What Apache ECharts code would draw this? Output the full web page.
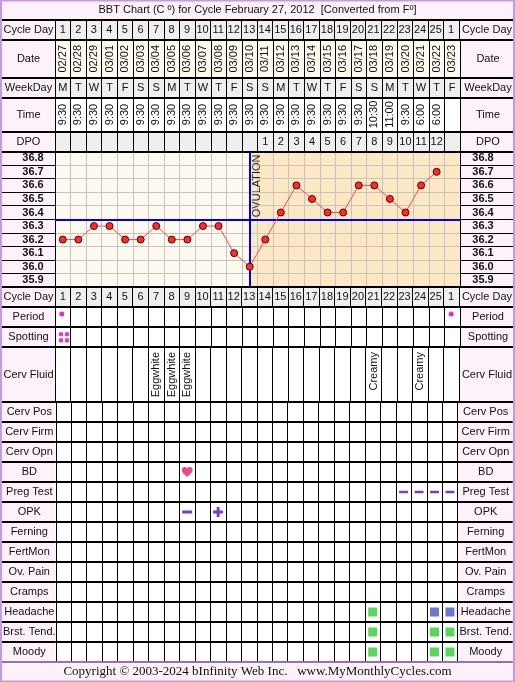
<!DOCTYPE html>
<html><head><meta charset="utf-8">
<script src="https://cdn.jsdelivr.net/npm/echarts@6/dist/echarts.min.js"></script>
<style>html,body{margin:0;padding:0;background:#fdf1fc}#c{width:515px;height:682px}</style>
</head><body><div id="c"></div>
<script>
// ---------------- DATA ----------------
const titleText = 'BBT Chart (C º) for Cycle February 27, 2012  [Converted from Fº]';
const copyrightText = 'Copyright © 2003-2024 bInfinity Web Inc.   www.MyMonthlyCycles.com';
const cycleDays = ['1','2','3','4','5','6','7','8','9','10','11','12','13','14','15','16','17','18','19','20','21','22','23','24','25','1'];
const dates = ['02/27','02/28','02/29','03/01','03/02','03/03','03/04','03/05','03/06','03/07','03/08','03/09','03/10','03/11','03/12','03/13','03/14','03/15','03/16','03/17','03/18','03/19','03/20','03/21','03/22','03/23'];
const weekDays = ['M','T','W','T','F','S','S','M','T','W','T','F','S','S','M','T','W','T','F','S','S','M','T','W','T','F'];
const times = ['9:30','9:30','9:30','9:30','9:30','9:30','9:30','9:30','9:30','9:30','9:30','9:30','9:30','9:30','9:30','9:30','9:30','9:30','9:30','9:30','10:30','11:00','9:30','6:00','6:00',''];
const dpo = ['','','','','','','','','','','','','','1','2','3','4','5','6','7','8','9','10','11','12',''];
const temps = [36.2,36.2,36.3,36.3,36.2,36.2,36.3,36.2,36.2,36.3,36.3,36.1,36.0,36.2,36.4,36.6,36.5,36.4,36.4,36.6,36.6,36.5,36.4,36.6,36.7,null];
const tempLabels = ['35.9','36.0','36.1','36.2','36.3','36.4','36.5','36.6','36.7','36.8'];
const tempMin = 35.85, tempMax = 36.85;
const coverline = 36.35;
const ovulationCol = 13;
const headerRows = ['Cycle Day','Date','WeekDay','Time','DPO'];
const rowsA = ['Period','Spotting'];
const rowsB = ['Cerv Fluid'];
const rowsC = ['Cerv Pos','Cerv Firm','Cerv Opn','BD','Preg Test','OPK','Ferning','FertMon','Ov. Pain','Cramps','Headache','Brst. Tend.','Moody'];
const periodCols = [1, 26];
const spottingCols = [1];
const cervFluidCols = [7, 8, 9, 21, 24];
const cervFluidTypes = ['Eggwhite','Eggwhite','Eggwhite','Creamy','Creamy'];
const bdCols = [9];
const pregTestNegCols = [23, 24, 25, 26];
const opkNegCols = [9];
const opkPosCols = [11];
const headacheLightCols = [21];
const headacheModCols = [25, 26];
const breastCols = [21, 25, 26];
const moodyCols = [21, 25, 26];

// ---------------- LAYOUT / STYLE ----------------
const LEFT = 55, RIGHT = 55;
const FONT = '"Liberation Sans", Arial, sans-serif';
const SERIF = '"Liberation Serif", "Times New Roman", serif';
const grids = [], xAxes = [], yAxes = [], series = [];

function addGrid(cfg) {
  const gi = grids.length;
  grids.push({left: LEFT, right: RIGHT, top: cfg.top, height: cfg.height, show: true, backgroundColor: cfg.bg, borderWidth: 0});
  const zY = cfg.yz == null ? 2 : cfg.yz;
  const zX = cfg.xz == null ? 2 : cfg.xz;
  xAxes.push({type: 'category', gridIndex: gi, data: dates, boundaryGap: true, position: 'bottom', z: zX,
    axisLine: {show: true, lineStyle: {color: '#000', width: 2}},
    axisTick: {show: false}, axisLabel: {show: false},
    splitLine: {show: true, interval: 0, lineStyle: {color: cfg.vColor || '#000', width: 1}}});
  const lab = {show: true, interval: 0, align: 'center', fontSize: 11, color: '#111', fontFamily: FONT, fontWeight: cfg.bold ? 'bold' : 'normal'};
  const common = {type: 'category', gridIndex: gi, data: cfg.rows, inverse: !!cfg.inverse, boundaryGap: true, z: zY,
    axisLine: {show: true, lineStyle: {color: '#000', width: 1}},
    axisTick: {show: true, interval: 0, length: LEFT, lineStyle: {color: '#000', width: cfg.tickW || 2}}};
  const yl = yAxes.length;
  yAxes.push(Object.assign({}, common, {position: 'left', axisLabel: Object.assign({}, lab, {margin: cfg.lm || 26.5}),
    splitLine: {show: true, interval: 0, lineStyle: {color: cfg.hColor || '#000', width: cfg.hW || 2}}}));
  yAxes.push(Object.assign({}, common, {position: 'right', axisLabel: Object.assign({}, lab, {margin: cfg.rm || 28}), splitLine: {show: false}}));
  return {gi, yl};
}

function addTextRow(g, texts, o) {
  o = o || {};
  const data = [];
  texts.forEach((t, i) => { if (t !== '') data.push([i, o.row || 0]); });
  series.push({type: 'custom', coordinateSystem: 'cartesian2d', xAxisIndex: g.gi, yAxisIndex: g.yl, z: 5, silent: true,
    data, renderItem(params, api) {
      const i = api.value(0);
      const p = api.coord([i, api.value(1)]);
      const h = api.size([0, 1])[1];
      let y = p[1], align = 'center';
      if (o.topPad != null) { y = p[1] - h / 2 + o.topPad; align = 'right'; }
      return {type: 'text', x: p[0] + (o.dx || 0), y: y, rotation: o.rotate ? Math.PI / 2 : 0, z2: 10,
        style: {text: texts[i], fill: '#111', fontSize: 11, fontFamily: FONT, align: align, verticalAlign: 'middle'}};
    }});
}

function addMarks(g, rows, rowName, cols, symbol, size, color, extra) {
  const r = rows.indexOf(rowName);
  series.push(Object.assign({type: 'scatter', xAxisIndex: g.gi, yAxisIndex: g.yl, z: 6, silent: true,
    symbol: symbol, symbolSize: size, itemStyle: {color: color, opacity: 1},
    data: cols.map(c => [c - 1, r])}, extra || {}));
}

// header rows
const gCycle = addGrid({top: 20, height: 20, bg: '#efefef', rows: [headerRows[0]]});
addTextRow(gCycle, cycleDays);
const gDate = addGrid({top: 40, height: 37.5, bg: '#fffaef', rows: [headerRows[1]]});
addTextRow(gDate, dates, {rotate: true});
const gWeek = addGrid({top: 77.5, height: 20, bg: '#efefef', rows: [headerRows[2]]});
addTextRow(gWeek, weekDays);
const gTime = addGrid({top: 97.5, height: 34, bg: '#ffffff', rows: [headerRows[3]]});
addTextRow(gTime, times, {rotate: true});
const gDpo = addGrid({top: 131.5, height: 20, bg: '#efefef', rows: [headerRows[4]]});
addTextRow(gDpo, dpo);

// chart
const gChart = addGrid({top: 151.5, height: 135.5, bg: '#fffaef', rows: tempLabels, inverse: false,
  yz: 1, xz: 0, vColor: '#c4c4c4', hColor: '#c4c4c4', hW: 1, tickW: 1.2, bold: true, lm: 22, rm: 23});
const vAxis = yAxes.length;
yAxes.push({type: 'value', gridIndex: gChart.gi, min: tempMin, max: tempMax, show: false});

// post-ovulation shading + OVULATION label
series.push({type: 'custom', coordinateSystem: 'cartesian2d', xAxisIndex: gChart.gi, yAxisIndex: vAxis, z: 0, silent: true,
  data: [[ovulationCol - 1, tempMax]],
  renderItem(params, api) {
    const p = api.coord([api.value(0), api.value(1)]);
    const cs = params.coordSys;
    return {type: 'group', children: [
      {type: 'rect', z2: -0.5, shape: {x: p[0], y: cs.y, width: cs.x + cs.width - p[0], height: cs.height}, style: {fill: '#fde8c4'}},
      {type: 'text', z2: 5, x: p[0] + 7.5, y: cs.y + 3, rotation: Math.PI / 2,
        style: {text: 'OVULATION', fill: '#222', fontSize: 11, fontFamily: FONT, align: 'right', verticalAlign: 'middle'}}
    ]};
  }});

series.push({type: 'line', xAxisIndex: gChart.gi, yAxisIndex: vAxis, data: temps, z: 10, silent: true,
  symbol: 'circle', symbolSize: 7,
  itemStyle: {color: '#ff2b2b', borderColor: '#5a0000', borderWidth: 1},
  lineStyle: {color: '#ff4a4a', width: 1},
  markLine: {silent: true, symbol: 'none', label: {show: false}, z: 9,
    lineStyle: {color: '#0000ee', width: 2, type: 'solid'},
    data: [{yAxis: coverline}, {xAxis: dates[ovulationCol - 1]}]}});

// lower table
const gCycle2 = addGrid({top: 287, height: 20, bg: '#efefef', rows: [headerRows[0]]});
addTextRow(gCycle2, cycleDays);
const gA = addGrid({top: 307, height: 40, bg: '#ffffff', rows: rowsA, inverse: true});
addMarks(gA, rowsA, 'Period', periodCols, 'circle', 5, '#ee22ee', {symbolOffset: [-1, -3]});
series.push({type: 'custom', coordinateSystem: 'cartesian2d', xAxisIndex: gA.gi, yAxisIndex: gA.yl, z: 6, silent: true,
  data: spottingCols.map(c => [c - 1, rowsA.indexOf('Spotting')]),
  renderItem(params, api) {
    const p = api.coord([api.value(0), api.value(1)]);
    const offs = [[-1.8, -2.8], [4.2, -2.8], [-1.8, 3.4], [4.2, 3.4]];
    return {type: 'group', children: offs.map(o => ({type: 'circle', shape: {cx: p[0] + o[0], cy: p[1] + o[1], r: 2.3}, style: {fill: '#e040c0'}}))};
  }});
const gB = addGrid({top: 347, height: 55, bg: '#ffffff', rows: rowsB});
const cfTexts = dates.map(() => '');
cervFluidCols.forEach((c, k) => { cfTexts[c - 1] = cervFluidTypes[k]; });
addTextRow(gB, cfTexts, {rotate: true, topPad: 5});
const gC = addGrid({top: 402, height: 260, bg: '#ffffff', rows: rowsC, inverse: true});
const HEART = 'path://M12 21.35l-1.45-1.32C5.4 15.36 2 12.28 2 8.5 2 5.42 4.42 3 7.5 3c1.74 0 3.41.81 4.5 2.09C13.09 3.81 14.76 3 16.5 3 19.58 3 22 5.42 22 8.5c0 3.78-3.4 6.86-8.55 11.54L12 21.35z';
const PLUS = 'path://M3.5,0H6.5V3.5H10V6.5H6.5V10H3.5V6.5H0V3.5H3.5Z';
addMarks(gC, rowsC, 'BD', bdCols, HEART, [11, 10], '#e84a8a');
addMarks(gC, rowsC, 'Preg Test', pregTestNegCols, 'rect', [9, 2.5], '#7c3cc4');
addMarks(gC, rowsC, 'OPK', opkNegCols, 'rect', [10, 3], '#7c3cc4');
addMarks(gC, rowsC, 'OPK', opkPosCols, PLUS, [10, 10], '#7c3cc4');
addMarks(gC, rowsC, 'Headache', headacheLightCols, 'rect', [9, 9], '#5ad65a');
addMarks(gC, rowsC, 'Headache', headacheModCols, 'rect', [9, 9], '#6a78d2');
addMarks(gC, rowsC, 'Brst. Tend.', breastCols, 'rect', [9, 9], '#5ad65a');
addMarks(gC, rowsC, 'Moody', moodyCols, 'rect', [9, 9], '#5ad65a');

const option = {
  animation: false,
  backgroundColor: '#fdf1fc',
  textStyle: {fontFamily: FONT},
  title: [
    {text: titleText, left: 'center', top: 4, padding: 0, textStyle: {fontSize: 11, fontWeight: 'normal', color: '#111', fontFamily: FONT}},
    {text: copyrightText, left: 'center', top: 665, padding: 0, textStyle: {fontSize: 13, fontWeight: 'normal', color: '#111', fontFamily: SERIF}}
  ],
  grid: grids, xAxis: xAxes, yAxis: yAxes, series: series,
  graphic: [
    {type: 'rect', z: 100, silent: true, shape: {x: 1, y: 0.5, width: 513, height: 681}, style: {fill: null, stroke: '#c49ae6', lineWidth: 2}},
    {type: 'line', z: 100, silent: true, shape: {x1: 0, y1: 662, x2: 515, y2: 662}, style: {stroke: '#c49ae6', lineWidth: 1.5}}
  ]
};
const chart = echarts.init(document.getElementById('c'), null, {renderer: 'canvas'});
chart.setOption(option);
</script></body></html>
